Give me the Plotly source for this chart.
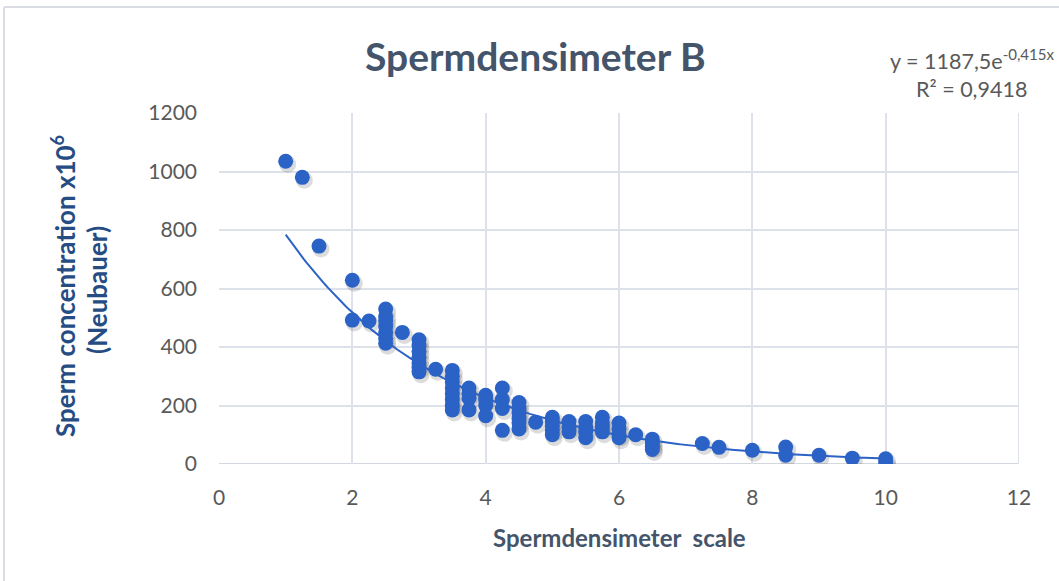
import numpy as np
import plotly.graph_objects as go

# Spermdensimeter reading (scale) and Neubauer chamber count (x10^6/mL)
scale_x = [
    1, 1.25, 1.5,
    2, 2,
    2.25,
    2.5, 2.5, 2.5, 2.5, 2.5, 2.5, 2.5,
    2.75,
    3, 3, 3, 3, 3, 3, 3,
    3.25,
    3.5, 3.5, 3.5, 3.5, 3.5, 3.5, 3.5, 3.5,
    3.75, 3.75, 3.75, 3.75,
    4, 4, 4, 4,
    4.25, 4.25, 4.25, 4.25,
    4.5, 4.5, 4.5, 4.5, 4.5, 4.5,
    4.75,
    5, 5, 5, 5, 5,
    5.25, 5.25, 5.25,
    5.5, 5.5, 5.5, 5.5,
    5.75, 5.75, 5.75, 5.75,
    6, 6, 6, 6,
    6.25,
    6.5, 6.5, 6.5, 6.5,
    7.25, 7.5, 8,
    8.5, 8.5,
    9, 9.5,
    10, 10,
]
conc_y = [
    1035, 980, 745,
    628, 492,
    489,
    530, 505, 490, 470, 450, 430, 413,
    450,
    425, 405, 385, 365, 345, 330, 315,
    324,
    320, 300, 280, 260, 240, 220, 200, 185,
    260, 240, 225, 185,
    235, 220, 200, 165,
    260, 220, 190, 115,
    210, 190, 175, 155, 140, 120,
    143,
    160, 145, 130, 115, 100,
    145, 125, 110,
    145, 125, 110, 90,
    160, 140, 125, 110,
    140, 120, 100, 90,
    100,
    85, 70, 60, 50,
    70, 57, 47,
    58, 30,
    30, 20,
    18, 5,
]

# Exponential trendline y = a * exp(b * x)
fit_a = 1187.5
fit_b = -0.415
fit_r2 = "0,9418"

x_ticks = [0, 2, 4, 6, 8, 10, 12]
y_ticks = [0, 200, 400, 600, 800, 1000, 1200]

W, H = 1059, 581
L, R, T, B = 219, 40, 113, 117
plot_w = W - L - R
plot_h = H - T - B
x_rng = [0, 12]
y_rng = [0, 1200]


def px(x):
    return (x - L) / plot_w


def py(y):
    return (H - B - y) / plot_h


blue = "#2B62C6"
grid = "#DCE1EA"
tick_col = "#595959"
title_col = "#44546A"
ytitle_col = "#264C84"
font = "Lato"

xs = np.array(scale_x, dtype=float)
ys = np.array(conc_y, dtype=float)

# soft drop shadow under the markers (offset a couple of pixels down-right)
dx = 2.0 * (x_rng[1] - x_rng[0]) / plot_w
dy = -3.0 * (y_rng[1] - y_rng[0]) / plot_h

fig = go.Figure()
fig.add_trace(go.Scatter(
    x=xs + dx, y=ys + dy, mode="markers",
    marker=dict(size=17, color="rgba(60,60,60,0.18)", line=dict(width=0)),
    hoverinfo="skip", showlegend=False,
))

tx = np.linspace(1, 10, 200)
fig.add_trace(go.Scatter(
    x=tx, y=fit_a * np.exp(fit_b * tx), mode="lines",
    line=dict(color=blue, width=2), hoverinfo="skip", showlegend=False,
))

fig.add_trace(go.Scatter(
    x=xs, y=ys, mode="markers",
    marker=dict(size=15, color=blue, line=dict(width=0)),
    showlegend=False,
))

axis_common = dict(
    showgrid=True, gridcolor=grid, gridwidth=2,
    zeroline=False, showline=False, ticks="",
    tickfont=dict(family=font, size=21, color=tick_col),
    fixedrange=True,
)

fig.update_layout(
    width=W, height=H,
    margin=dict(l=L, r=R, t=T, b=B),
    paper_bgcolor="white", plot_bgcolor="white",
    showlegend=False,
    xaxis=dict(range=x_rng, tickvals=x_ticks, ticklabelstandoff=19, **axis_common),
    yaxis=dict(range=y_rng, tickvals=y_ticks, ticklabelstandoff=21, **axis_common),
)

# outline of the x-axis baseline and right border
fig.add_shape(type="line", xref="x", yref="y", x0=0, x1=12, y0=0, y1=0,
              line=dict(color="#D3D8E0", width=2), layer="below")
fig.add_shape(type="line", xref="x", yref="y", x0=12, x1=12, y0=0, y1=1200,
              line=dict(color=grid, width=2), layer="below")

# chart frame (top and left edges)
fig.add_shape(type="line", xref="paper", yref="paper",
              x0=px(4), x1=px(W), y0=py(7), y1=py(7),
              line=dict(color="#D9DDE3", width=2))
fig.add_shape(type="line", xref="paper", yref="paper",
              x0=px(4), x1=px(4), y0=py(7), y1=py(H),
              line=dict(color="#D9DDE3", width=2))

annotations = [
    dict(text="<b>Spermdensimeter B</b>", x=px(535), y=py(56),
         font=dict(family=font, size=39, color=title_col)),
    dict(text="<b>Spermdensimeter  scale</b>", x=px(619), y=py(537),
         font=dict(family=font, size=24, color=title_col)),
    dict(text="<b>Sperm concentration x10<sup>6</sup></b>", x=px(63), y=py(286),
         textangle=-90, font=dict(family=font, size=26, color=ytitle_col)),
    dict(text="<b>(Neubauer)</b>", x=px(97), y=py(290),
         textangle=-90, font=dict(family=font, size=26, color=ytitle_col)),
    dict(text=f"y = {str(fit_a).replace('.', ',')}e<sup>{str(fit_b).replace('.', ',')}x</sup>",
         x=px(972), y=py(60), font=dict(family=font, size=21.5, color=tick_col)),
    dict(text=f"R² = {fit_r2}", x=px(971), y=py(89),
         font=dict(family=font, size=21.5, color=tick_col)),
]
for a in annotations:
    fig.add_annotation(xref="paper", yref="paper", showarrow=False,
                       xanchor="center", yanchor="middle", **a)

fig.write_html("out.html")
